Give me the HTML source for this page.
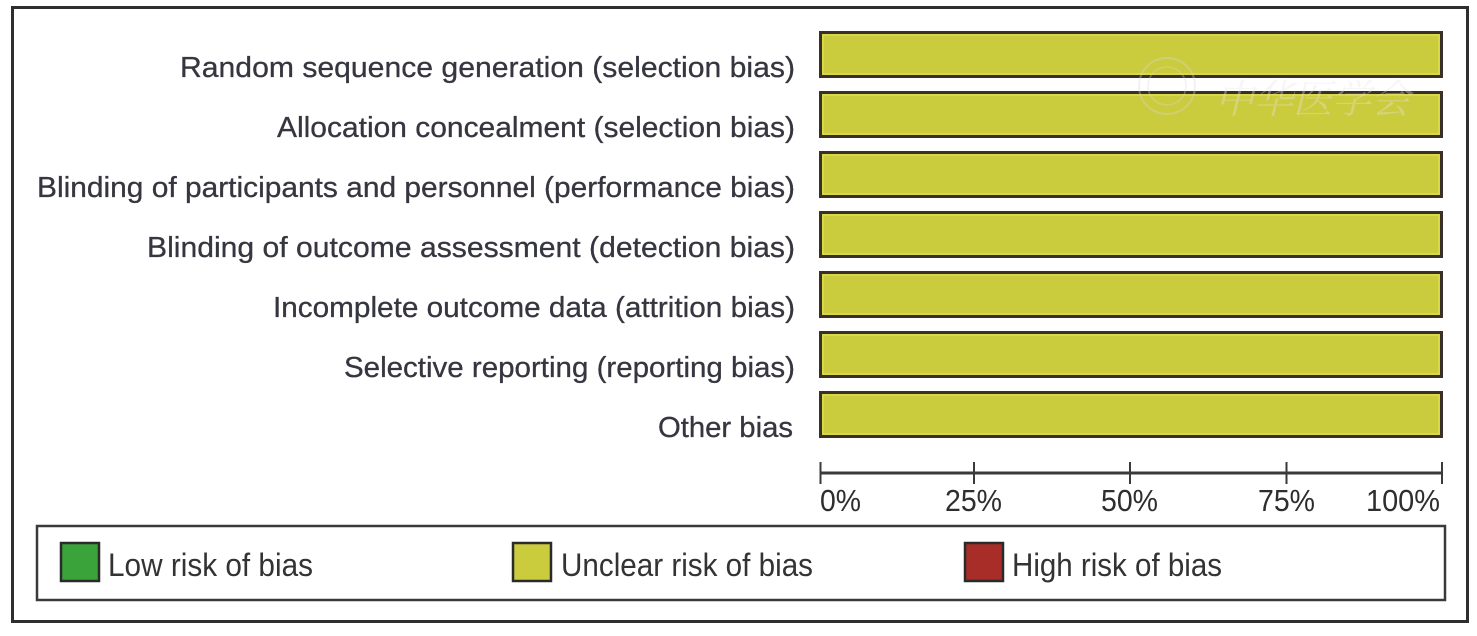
<!DOCTYPE html>
<html>
<head>
<meta charset="utf-8">
<style>
html,body{margin:0;padding:0;background:#fff;}
svg{display:block;}
text{font-family:"Liberation Sans","Noto Sans CJK SC",sans-serif;}
</style>
</head>
<body>
<svg width="1477" height="636" viewBox="0 0 1477 636" xmlns="http://www.w3.org/2000/svg">
<rect x="0" y="0" width="1477" height="636" fill="#fff"/>
<!-- outer frame -->
<rect x="12.5" y="7.5" width="1455" height="614" fill="#fff" stroke="#2e2e2e" stroke-width="3"/>

<!-- bars -->
<g>
    <rect x="820.5" y="32.5" width="621" height="44" fill="#cbcb3e" stroke="#3a3028" stroke-width="3"/>
    <rect x="823" y="35" width="616" height="39" fill="none" stroke="#dede4a" stroke-width="1.5"/>
    <rect x="820.5" y="92.5" width="621" height="44" fill="#cbcb3e" stroke="#3a3028" stroke-width="3"/>
    <rect x="823" y="95" width="616" height="39" fill="none" stroke="#dede4a" stroke-width="1.5"/>
    <rect x="820.5" y="152.5" width="621" height="44" fill="#cbcb3e" stroke="#3a3028" stroke-width="3"/>
    <rect x="823" y="155" width="616" height="39" fill="none" stroke="#dede4a" stroke-width="1.5"/>
    <rect x="820.5" y="212.5" width="621" height="44" fill="#cbcb3e" stroke="#3a3028" stroke-width="3"/>
    <rect x="823" y="215" width="616" height="39" fill="none" stroke="#dede4a" stroke-width="1.5"/>
    <rect x="820.5" y="272.5" width="621" height="44" fill="#cbcb3e" stroke="#3a3028" stroke-width="3"/>
    <rect x="823" y="275" width="616" height="39" fill="none" stroke="#dede4a" stroke-width="1.5"/>
    <rect x="820.5" y="332.5" width="621" height="44" fill="#cbcb3e" stroke="#3a3028" stroke-width="3"/>
    <rect x="823" y="335" width="616" height="39" fill="none" stroke="#dede4a" stroke-width="1.5"/>
    <rect x="820.5" y="392.5" width="621" height="44" fill="#cbcb3e" stroke="#3a3028" stroke-width="3"/>
    <rect x="823" y="395" width="616" height="39" fill="none" stroke="#dede4a" stroke-width="1.5"/>
</g>

<!-- watermark -->
<g opacity="0.35">
  <circle cx="1167" cy="86" r="28" fill="none" stroke="#d8d8d8" stroke-width="2"/>
  <circle cx="1167" cy="86" r="19" fill="none" stroke="#d8d8d8" stroke-width="1.5"/>
  <text x="1215" y="113" font-size="40" fill="#e6e6e6" textLength="195" lengthAdjust="spacingAndGlyphs" style="font-family:'Noto Serif CJK SC','Noto Sans CJK SC',serif;font-style:italic;">中华医学会</text>
</g>

<!-- labels -->
<g fill="#363640" font-size="29" stroke="#363640" stroke-width="0.3">
  <text x="180" y="77" textLength="615" lengthAdjust="spacingAndGlyphs">Random sequence generation (selection bias)</text>
  <text x="277" y="137" textLength="518" lengthAdjust="spacingAndGlyphs">Allocation concealment (selection bias)</text>
  <text x="37" y="197" textLength="758" lengthAdjust="spacingAndGlyphs">Blinding of participants and personnel (performance bias)</text>
  <text x="147" y="257" textLength="648" lengthAdjust="spacingAndGlyphs">Blinding of outcome assessment (detection bias)</text>
  <text x="273" y="317" textLength="522" lengthAdjust="spacingAndGlyphs">Incomplete outcome data (attrition bias)</text>
  <text x="344" y="377" textLength="451" lengthAdjust="spacingAndGlyphs">Selective reporting (reporting bias)</text>
  <text x="658" y="437" textLength="135" lengthAdjust="spacingAndGlyphs">Other bias</text>
</g>

<!-- axis -->
<g stroke="#3a3a3a">
  <line x1="820" y1="473" x2="1442" y2="473" stroke-width="3"/>
  <line x1="820.5" y1="462" x2="820.5" y2="484" stroke-width="2"/>
  <line x1="974" y1="462" x2="974" y2="484" stroke-width="2"/>
  <line x1="1130" y1="462" x2="1130" y2="484" stroke-width="2"/>
  <line x1="1286.5" y1="462" x2="1286.5" y2="484" stroke-width="2"/>
  <line x1="1442" y1="462" x2="1442" y2="484" stroke-width="2"/>
</g>
<g fill="#2e2e2e" font-size="30.5">
  <text x="820" y="511" textLength="41" lengthAdjust="spacingAndGlyphs">0%</text>
  <text x="945" y="511" textLength="57" lengthAdjust="spacingAndGlyphs">25%</text>
  <text x="1101" y="511" textLength="57" lengthAdjust="spacingAndGlyphs">50%</text>
  <text x="1258" y="511" textLength="57" lengthAdjust="spacingAndGlyphs">75%</text>
  <text x="1366" y="511" textLength="74" lengthAdjust="spacingAndGlyphs">100%</text>
</g>

<!-- legend -->
<rect x="37" y="526" width="1408" height="74" fill="#fff" stroke="#3a3a3a" stroke-width="2.5"/>
<rect x="61" y="543" width="38" height="38" fill="#3aa33a" stroke="#2a2a2a" stroke-width="2.5"/>
<rect x="513" y="543" width="38" height="38" fill="#cbcb3e" stroke="#2a2a2a" stroke-width="2.5"/>
<rect x="965" y="543" width="38" height="38" fill="#a82c28" stroke="#2a2a2a" stroke-width="2.5"/>
<g fill="#333" font-size="32.5">
  <text x="108" y="576" textLength="205" lengthAdjust="spacingAndGlyphs">Low risk of bias</text>
  <text x="561" y="576" textLength="252" lengthAdjust="spacingAndGlyphs">Unclear risk of bias</text>
  <text x="1012" y="576" textLength="210" lengthAdjust="spacingAndGlyphs">High risk of bias</text>
</g>
</svg>
</body>
</html>
